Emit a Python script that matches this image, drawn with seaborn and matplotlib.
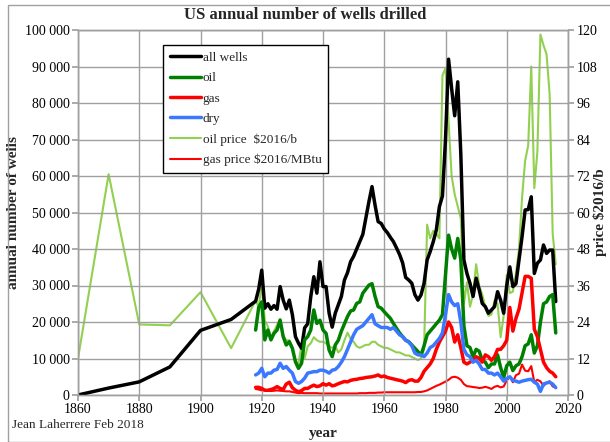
import matplotlib
matplotlib.use("Agg")
import matplotlib.pyplot as plt
import matplotlib.patches as mpatches
from matplotlib.ticker import FuncFormatter
import seaborn as sns
import numpy as np

# decadal points before the annual series
early_years = [1860, 1870, 1880, 1890, 1900, 1910]
early_all_wells = [0, 1900, 3600, 7700, 17700, 20700]
early_oil_price = [12, 72.6, 23.2, 22.9, 33.8, 15.4]

# annual series 1918-2016
years = list(range(1918, 2017))

all_wells = [
    25700, 29000, 34200, 23800, 25000, 23500, 24500, 23500, 29700, 26000,
    23600, 26000, 22000, 16000, 14200, 12800, 18400, 19500, 26900, 32400,
    27900, 36500, 29700, 29700, 22400, 18600, 22400, 24700, 27000, 31500,
    33500, 36500, 38000, 40000, 42000, 44000, 48500, 53000, 57100, 52000,
    47500, 47000, 45500, 44500, 43200, 42000, 40300, 38500, 36200, 32200,
    31500, 30600, 27500, 26000, 27400, 30600, 37000, 39300, 42000, 45200,
    51600, 54500, 70000, 92000, 84000, 76500, 85800, 66000, 37000, 33300,
    30600, 27000, 32000, 28800, 25100, 24200, 22400, 23300, 24200, 28300,
    26000, 22400, 30000, 35100, 29700, 30500, 37000, 43400, 50700, 50800,
    54300, 33300, 36100, 37000, 41100, 38800, 39700, 39700, 25600]

oil_wells = [
    17800, 24000, 25500, 15100, 17800, 15100, 16900, 17800, 20500, 16000,
    13700, 14600, 12800, 9100, 7300, 8700, 15100, 16000, 17800, 23300,
    19600, 20500, 17800, 16900, 12300, 10500, 13700, 15000, 17500, 19500,
    21500, 23000, 23300, 25100, 25500, 27900, 29000, 30100, 30500, 27000,
    24200, 23800, 22800, 21900, 21000, 19600, 18300, 17000, 16000, 15000,
    14600, 13700, 12800, 11900, 10900, 13500, 16500, 17500, 18500, 19500,
    20500, 22000, 33000, 43800, 40000, 37500, 42900, 37000, 19000, 13500,
    13000, 10500, 12500, 12000, 9500, 9000, 7500, 8500, 8500, 11000,
    7500, 4800, 8000, 9000, 6700, 8000, 8500, 10500, 13500, 14000,
    16500, 11500, 13500, 20000, 25000, 25500, 27000, 27500, 17000]

gas_wells = [
    2100, 2100, 1800, 1300, 1300, 1500, 1800, 2300, 1800, 1500,
    3000, 3500, 2000, 1300, 900, 1200, 1800, 1800, 2300, 2700,
    2300, 2500, 3100, 2700, 3100, 2500, 2700, 3100, 3400, 3700,
    3600, 4000, 4200, 4300, 4500, 4600, 4800, 4900, 5000, 5200,
    5500, 5000, 5200, 4800, 4600, 4400, 4200, 4000, 3800, 3400,
    4000, 4200, 3800, 3800, 4800, 6500, 7500, 8500, 10000, 12500,
    14500, 16000, 17500, 20000, 18500, 14500, 16500, 13000, 9000, 8500,
    9000, 9500, 10500, 10000, 9000, 11000, 10500, 9500, 10500, 12500,
    12500, 13500, 15000, 24000, 17500, 21000, 23500, 28000, 32500, 32500,
    32000, 18000, 16000, 12500, 9000, 7500, 6500, 6000, 5000]

dry_wells = [
    5500, 6000, 7300, 5000, 6000, 6000, 6800, 7000, 8700, 7300,
    7800, 6800, 6000, 3700, 3200, 3700, 4600, 6000, 6200, 6400,
    6400, 6800, 6800, 6500, 6000, 6800, 7000, 7800, 9000, 10500,
    12500, 14500, 16500, 18000, 18500, 19000, 20000, 21000, 22000, 19500,
    19000, 18500, 18500, 18500, 18000, 18500, 17500, 16500, 16000, 15000,
    14500, 13500, 11500, 11000, 11000, 10500, 11500, 13000, 13500, 14500,
    15500, 17000, 22000, 27500, 25500, 24500, 25000, 20000, 12500, 11000,
    10500, 9000, 9500, 8500, 7000, 7000, 6000, 6000, 5500, 6000,
    5000, 3800, 4500, 5000, 4000, 3800, 3500, 3800, 4000, 4200,
    4300, 3500, 3000, 1000, 3000, 3300, 3500, 3000, 2000]

oil_price = [
    31, 29, 36.5, 24.5, 22.5, 19, 21, 23, 25, 19.5,
    18, 18, 15.5, 11, 10.5, 16.5, 12, 16, 17, 19,
    18, 17.5, 17.5, 17, 16, 15.5, 16, 14, 15, 18,
    20.5, 18.5, 17.5, 16, 15.5, 16, 16.5, 16.5, 17.5, 17.5,
    16.5, 16, 15.5, 15.5, 15, 14.5, 14, 14, 13.5, 13,
    13, 12.5, 12, 11.5, 12, 15, 56, 51.5, 54, 53,
    51.5, 105, 107.5, 90, 72, 66, 62, 58, 30, 37,
    29, 33, 43, 36, 33, 29, 26, 26.5, 31, 30,
    19, 26, 39.5, 33.5, 34, 40, 48, 65, 77, 82,
    108, 68, 80, 118.5, 115, 112, 99, 53, 43]

gas_price = [
    2.0, 1.8, 1.5, 1.6, 1.4, 1.3, 1.4, 1.5, 1.4, 1.3,
    1.2, 1.2, 1.0, 0.8, 0.6, 0.7, 0.6, 0.6, 0.6, 0.6,
    0.6, 0.5, 0.5, 0.5, 0.5, 0.5, 0.5, 0.5, 0.5, 0.5,
    0.5, 0.5, 0.5, 0.5, 0.6, 0.6, 0.6, 0.7, 0.7, 0.7,
    0.8, 0.8, 0.9, 0.9, 0.9, 0.9, 0.9, 0.9, 0.9, 0.9,
    0.9, 0.9, 0.9, 1.0, 1.0, 1.2, 1.5, 2.0, 2.5, 3.0,
    3.4, 3.9, 4.4, 5.0, 5.8, 6.0, 5.7, 5.0, 3.6, 2.9,
    2.8, 2.6, 2.5, 2.3, 2.4, 2.7, 2.4, 2.0, 2.7, 3.0,
    2.5, 2.8, 4.8, 6.0, 4.2, 6.5, 7.0, 10.0, 8.0, 7.8,
    9.5, 4.2, 5.0, 4.5, 3.0, 4.0, 4.5, 2.8, 2.5]

sns.set_theme(style="whitegrid")
plt.rcParams['font.family'] = ['Liberation Serif', 'DejaVu Serif']

fig = plt.figure(figsize=(6.1, 4.42), dpi=100)
ax = fig.add_axes([78 / 610, 1 - 395 / 442, 490 / 610, 365 / 442])
ax2 = ax.twinx()

thick = 2.5
thin = 1.5
sns.lineplot(x=early_years + years, y=early_all_wells + all_wells, ax=ax,
             color='black', lw=thick, label='all wells', sort=False)
sns.lineplot(x=years, y=oil_wells, ax=ax, color='#008000', lw=thick, label='oil', sort=False)
sns.lineplot(x=years, y=gas_wells, ax=ax, color='#ff0000', lw=thick, label='gas', sort=False)
sns.lineplot(x=years, y=dry_wells, ax=ax, color='#3a78ff', lw=thick, label='dry', sort=False)
sns.lineplot(x=early_years + years, y=early_oil_price + oil_price, ax=ax2,
             color='#92d050', lw=thin, label='oil price  $2016/b', sort=False)
sns.lineplot(x=years, y=gas_price, ax=ax2, color='#ff0000', lw=thin,
             label='gas price $2016/MBtu', sort=False)

ax.set_xlim(1860, 2020)
ax.set_ylim(0, 100000)
ax2.set_ylim(0, 120)
ax.set_xticks(range(1860, 2021, 20))
ax.set_yticks(range(0, 100001, 10000))
ax2.set_yticks(range(0, 121, 12))
ax.yaxis.set_major_formatter(FuncFormatter(lambda v, p: f"{int(v):,}".replace(',', ' ')))

ax.grid(True, color='#a0a0a0', lw=1)
ax2.grid(False)
ax.set_zorder(ax2.get_zorder() + 1)
ax.patch.set_visible(False)

for a in (ax, ax2):
    for s in a.spines.values():
        s.set_color('#a0a0a0')
        s.set_linewidth(1)
    a.tick_params(axis='both', which='major', labelsize=10, length=4,
                  color='#a0a0a0', direction='out', pad=2, labelcolor='black')
ax.tick_params(left=True, bottom=True)
ax2.tick_params(right=True)

ax.set_xlabel('year', fontsize=11, fontweight='bold', labelpad=8)
ax.set_ylabel('annual number of wells', fontsize=11, fontweight='bold')
ax.yaxis.set_label_coords((20 - 78) / 490, 0.5)
ax2.set_ylabel('price $2016/b', fontsize=11, fontweight='bold', rotation=90)
ax2.yaxis.set_label_coords((593 - 78) / 490, 0.5)
fig.text(0.5, 1 - 15 / 442, 'US annual number of wells drilled', ha='center', va='center',
         fontsize=12, fontweight='bold')
fig.text(12 / 610, 1 - 425 / 442, 'Jean Laherrere Feb 2018', ha='left', va='center', fontsize=9.5)

h1, l1 = ax.get_legend_handles_labels()
h2, l2 = ax2.get_legend_handles_labels()
if ax.get_legend():
    ax.get_legend().remove()
if ax2.get_legend():
    ax2.get_legend().remove()
leg = fig.legend(h1 + h2, l1 + l2, loc='upper left', bbox_to_anchor=(163 / 610, 1 - 45 / 442),
                 frameon=True, fancybox=False, edgecolor='black', framealpha=1,
                 fontsize=9.5, handlelength=2.4, handletextpad=0.1, labelspacing=0.62,
                 borderpad=0.5, borderaxespad=0)
leg.get_frame().set_linewidth(1)

fig.patches.append(mpatches.Rectangle((8 / 610, 0), 1, 1 - 5 / 442, transform=fig.transFigure,
                                      fill=False, edgecolor='#a0a0a0', lw=1))

fig.savefig('out.png', dpi=100)
